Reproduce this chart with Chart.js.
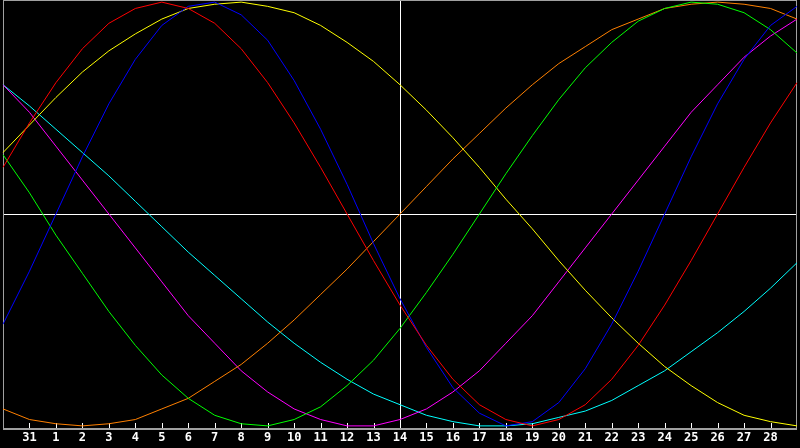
<!DOCTYPE html>
<html lang="en">
<head>
<meta charset="UTF-8">
<title>Biorhythm</title>
<script src="https://cdn.jsdelivr.net/npm/chart.js"></script>
<style>
  html, body { margin: 0; padding: 0; background: #000; overflow: hidden; }
  #wrap { width: 800px; height: 448px; }
</style>
</head>
<body>
<div id="wrap"><canvas id="bio" width="800" height="448"></canvas></div>
<script>
// day numbers along the bottom axis (the two end days are not labelled)
const days = ['30','31','1','2','3','4','5','6','7','8','9','10','11','12','13','14',
              '15','16','17','18','19','20','21','22','23','24','25','26','27','28','29'];

// cycle values in percent, one per day
const physical     = [-52,-27,0,27,52,73,89,98,100,94,82,63,40,14,-14,-40,-63,-82,-94,-100,-98,-89,-73,-52,-27,0,27,52,73,89,98];
const emotional    = [22,43,62,78,90,97,100,97,90,78,62,43,22,0,-22,-43,-62,-78,-90,-97,-100,-97,-90,-78,-62,-43,-22,0,22,43,62];
const intellectual = [28,10,-10,-28,-46,-62,-76,-87,-95,-99,-100,-97,-91,-81,-69,-54,-37,-19,0,19,37,54,69,81,91,97,100,99,95,87,76];
const intuitive    = [61,48,32,16,0,-16,-32,-48,-61,-74,-84,-92,-97,-100,-100,-97,-92,-84,-74,-61,-48,-32,-16,0,16,32,48,61,74,84,92];
const aesthetic    = [29,42,55,67,77,85,92,97,99,100,98,95,89,81,72,61,49,36,22,7,-7,-22,-36,-49,-61,-72,-81,-89,-95,-98,-100];
const awareness    = [-92,-97,-99,-100,-99,-97,-92,-87,-79,-71,-61,-50,-38,-26,-13,0,13,26,38,50,61,71,79,87,92,97,99,100,99,97,92];
const spiritual    = [61,51,40,29,18,6,-6,-18,-29,-40,-51,-61,-70,-78,-85,-90,-95,-98,-100,-100,-99,-96,-93,-88,-81,-74,-65,-56,-46,-35,-23];

const today = 15; // index of the centre day

function line(label, data, color) {
    return {
        label: label,
        data: data,
        borderColor: color,
        borderWidth: 1,
        pointRadius: 0,
        tension: 0,
        fill: false
    };
}

// frame round the plot and short ticks pointing up into it
const frameTicks = {
    id: 'frameTicks',
    beforeDatasetsDraw(chart) {
        const { ctx, chartArea: a, scales: { x } } = chart;
        ctx.save();
        ctx.fillStyle = '#a0a0a0';
        ctx.fillRect(a.left, a.top, a.right - a.left, 1);
        ctx.fillRect(a.left, a.top, 1, a.bottom - a.top);
        ctx.fillRect(a.right - 1, a.top, 1, a.bottom - a.top);
        ctx.fillRect(a.left, a.bottom, a.right - a.left, 2);
        ctx.strokeStyle = '#ffffff';
        ctx.lineWidth = 1;
        ctx.beginPath();
        for (let i = 1; i < days.length - 1; i++) {
            const px = Math.round(x.getPixelForValue(i)) + 0.5;
            ctx.moveTo(px, a.bottom - 5);
            ctx.lineTo(px, a.bottom);
        }
        ctx.stroke();
        ctx.restore();
    }
};

new Chart(document.getElementById('bio').getContext('2d'), {
    type: 'line',
    data: {
        labels: days,
        datasets: [
            line('Emotional', emotional, '#ff0000'),
            line('Physical', physical, '#0000ff'),
            line('Intellectual', intellectual, '#00ff00'),
            line('Aesthetic', aesthetic, '#ffff00'),
            line('Awareness', awareness, '#ff8000'),
            line('Intuitive', intuitive, '#ff00ff'),
            line('Spiritual', spiritual, '#00ffff')
        ]
    },
    options: {
        responsive: false,
        animation: false,
        devicePixelRatio: 1,
        layout: { padding: 0 },
        plugins: { legend: { display: false }, tooltip: { enabled: false } },
        scales: {
            x: {
                offset: false,
                border: { display: false },
                grid: {
                    drawTicks: false,
                    color: ctx => ctx.index === today ? '#ffffff' : 'rgba(0,0,0,0)'
                },
                ticks: {
                    autoSkip: false,
                    maxRotation: 0,
                    padding: 3,
                    color: '#ffffff',
                    font: { family: 'DejaVu Sans Mono', size: 12, weight: 'bold', lineHeight: '14px' },
                    callback: (v, i) => (i === 0 || i === days.length - 1) ? '' : days[i]
                }
            },
            y: {
                min: -101,
                max: 101,
                border: { display: false },
                afterBuildTicks: s => { s.ticks = [{ value: 0 }]; },
                grid: { drawTicks: false, color: '#ffffff' },
                ticks: { display: false }
            }
        }
    },
    plugins: [frameTicks]
});
</script>
</body>
</html>
